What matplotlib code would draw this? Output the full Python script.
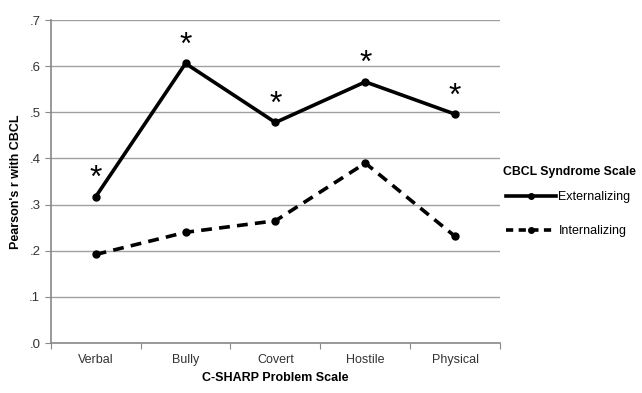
import matplotlib
matplotlib.use("Agg")
import matplotlib.pyplot as plt
from matplotlib.lines import Line2D

plt.rcParams['font.family'] = ['Liberation Sans', 'DejaVu Sans']

categories = ["Verbal", "Bully", "Covert", "Hostile", "Physical"]
externalizing = [0.317, 0.606, 0.478, 0.566, 0.496]
internalizing = [0.192, 0.240, 0.265, 0.390, 0.231]
yticks = [0.0, 0.1, 0.2, 0.3, 0.4, 0.5, 0.6, 0.7]
ytick_labels = [".0", ".1", ".2", ".3", ".4", ".5", ".6", ".7"]

fig = plt.figure(figsize=(6.42, 3.93), dpi=100)
ax = fig.add_axes([0.079, 0.127, 0.700, 0.822])

x = list(range(len(categories)))
for t in yticks[1:]:
    ax.axhline(t, color="#a0a0a0", lw=1.0, zorder=0)

ax.plot(x, externalizing, color="black", lw=2.6, marker="o", ms=5, solid_joinstyle="miter")
ax.plot(x, internalizing, color="black", lw=2.6, ls=(0, (3, 2)), marker="o", ms=5)

for xi, v in zip(x, externalizing):
    ax.annotate("*", (xi, v), xytext=(0, 2), textcoords="offset points",
                ha="center", va="bottom", fontsize=23)

ax.set_xlim(-0.5, 4.5)
ax.set_ylim(0, 0.7)
ax.set_xticks([i - 0.5 for i in range(6)])
ax.set_xticklabels([])
ax.set_xticks(x, minor=True)
ax.set_xticklabels(categories, minor=True, fontsize=9, color="#333333")
ax.tick_params(axis="x", which="minor", length=0, pad=8)
ax.tick_params(axis="x", which="major", length=4, color="#888888", direction="out")
ax.set_yticks(yticks)
ax.set_yticklabels(ytick_labels, fontsize=9.5, color="#333333")
ax.tick_params(axis="y", length=4, color="#888888")

for s in ["top", "right"]:
    ax.spines[s].set_visible(False)
for s in ["left", "bottom"]:
    ax.spines[s].set_color("#888888")
    ax.spines[s].set_linewidth(1.2)

ax.set_xlabel("C-SHARP Problem Scale", fontsize=9, fontweight="bold", labelpad=4)
ax.set_ylabel("Pearson's r with CBCL", fontsize=9, fontweight="bold", labelpad=5)

fig.text(503 / 642, 1 - 172 / 393, "CBCL Syndrome Scale", fontsize=8.8, fontweight="bold",
         ha="left", va="center")

handles = [Line2D([], [], color="black", lw=2.6, marker="o", ms=4),
           Line2D([], [], color="black", lw=2.6, ls=(0, (2, 1.5)), marker="o", ms=4)]
leg = fig.legend(handles, ["Externalizing", "Internalizing"],
                 loc="upper left", bbox_to_anchor=(0.788, 0.514), frameon=False,
                 fontsize=9, handlelength=4.0, handletextpad=0.2, labelspacing=1.8,
                 borderpad=0, borderaxespad=0)

fig.savefig("out.png", dpi=100)
